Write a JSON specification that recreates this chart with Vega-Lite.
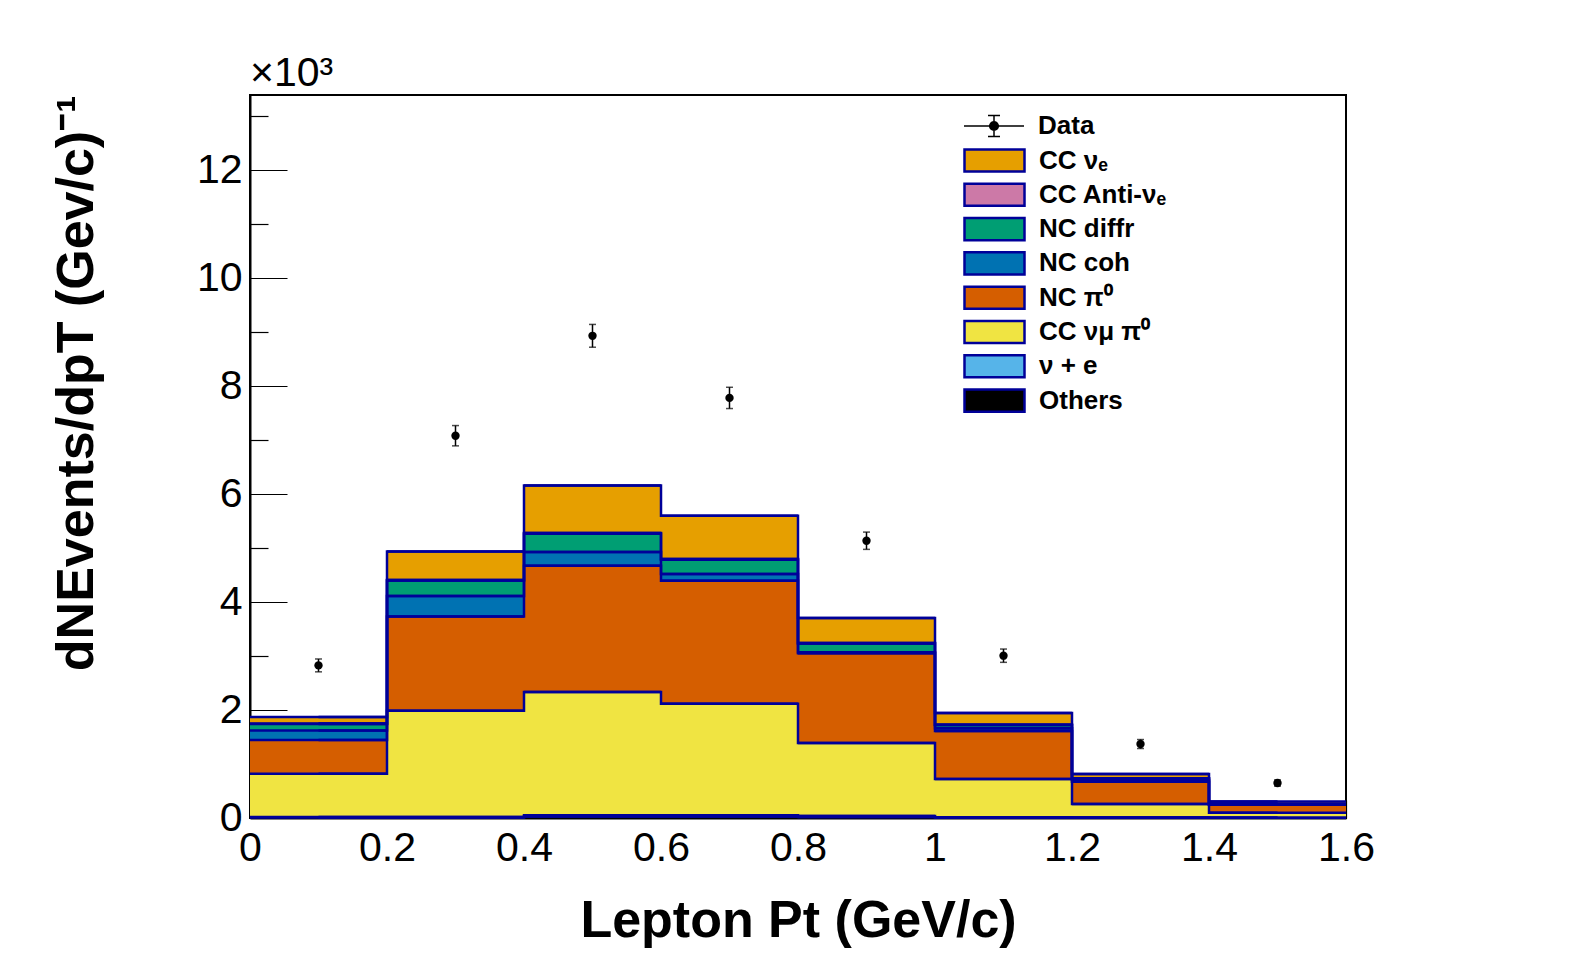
{
  "$schema": "https://vega.github.io/schema/vega-lite/v6.json",
  "width": 1096,
  "height": 723,
  "autosize": {"type": "none"},
  "padding": {"left": 250, "top": 95, "right": 250, "bottom": 154},
  "background": "white",
  "config": {
    "font": "Liberation Sans",
    "view": {"stroke": "black", "strokeWidth": 2},
    "axis": {
      "domainColor": "black",
      "domainWidth": 2,
      "tickColor": "black",
      "tickWidth": 1.2,
      "grid": false,
      "format": "~g",
      "labelFont": "Liberation Sans",
      "labelFontSize": 41,
      "labelColor": "black",
      "labelFlush": false,
      "labelOverlap": false,
      "titleFont": "Liberation Sans",
      "titleFontSize": 52,
      "titleFontWeight": "bold",
      "titleColor": "black"
    },
    "legend": {
      "labelFont": "Liberation Sans",
      "labelFontSize": 26,
      "labelFontWeight": "bold",
      "labelColor": "black",
      "labelLimit": 400,
      "padding": 0
    }
  },
  "title": {
    "text": "×10³",
    "anchor": "start",
    "frame": "group",
    "font": "Liberation Sans",
    "fontSize": 41,
    "fontWeight": "normal",
    "color": "black",
    "baseline": "alphabetic",
    "offset": -32
  },
  "datasets": {
    "mc": [
      {"lo": 0.0, "hi": 0.2, "mid": 0.1, "ord": 1, "cat": "Others", "v": 0.01},
      {"lo": 0.0, "hi": 0.2, "mid": 0.1, "ord": 2, "cat": "ν + e", "v": 0.01},
      {"lo": 0.0, "hi": 0.2, "mid": 0.1, "ord": 3, "cat": "CC  νμ  π⁰", "v": 0.80},
      {"lo": 0.0, "hi": 0.2, "mid": 0.1, "ord": 4, "cat": "NC  π⁰", "v": 0.624},
      {"lo": 0.0, "hi": 0.2, "mid": 0.1, "ord": 5, "cat": "NC coh", "v": 0.176},
      {"lo": 0.0, "hi": 0.2, "mid": 0.1, "ord": 6, "cat": "NC diffr", "v": 0.12},
      {"lo": 0.0, "hi": 0.2, "mid": 0.1, "ord": 7, "cat": "CC Anti-νₑ", "v": 0.01},
      {"lo": 0.0, "hi": 0.2, "mid": 0.1, "ord": 8, "cat": "CC  νₑ", "v": 0.12},
      {"lo": 0.2, "hi": 0.4, "mid": 0.3, "ord": 1, "cat": "Others", "v": 0.01},
      {"lo": 0.2, "hi": 0.4, "mid": 0.3, "ord": 2, "cat": "ν + e", "v": 0.01},
      {"lo": 0.2, "hi": 0.4, "mid": 0.3, "ord": 3, "cat": "CC  νμ  π⁰", "v": 1.967},
      {"lo": 0.2, "hi": 0.4, "mid": 0.3, "ord": 4, "cat": "NC  π⁰", "v": 1.746},
      {"lo": 0.2, "hi": 0.4, "mid": 0.3, "ord": 5, "cat": "NC coh", "v": 0.377},
      {"lo": 0.2, "hi": 0.4, "mid": 0.3, "ord": 6, "cat": "NC diffr", "v": 0.29},
      {"lo": 0.2, "hi": 0.4, "mid": 0.3, "ord": 7, "cat": "CC Anti-νₑ", "v": 0.01},
      {"lo": 0.2, "hi": 0.4, "mid": 0.3, "ord": 8, "cat": "CC  νₑ", "v": 0.527},
      {"lo": 0.4, "hi": 0.6, "mid": 0.5, "ord": 1, "cat": "Others", "v": 0.03},
      {"lo": 0.4, "hi": 0.6, "mid": 0.5, "ord": 2, "cat": "ν + e", "v": 0.02},
      {"lo": 0.4, "hi": 0.6, "mid": 0.5, "ord": 3, "cat": "CC  νμ  π⁰", "v": 2.283},
      {"lo": 0.4, "hi": 0.6, "mid": 0.5, "ord": 4, "cat": "NC  π⁰", "v": 2.337},
      {"lo": 0.4, "hi": 0.6, "mid": 0.5, "ord": 5, "cat": "NC coh", "v": 0.255},
      {"lo": 0.4, "hi": 0.6, "mid": 0.5, "ord": 6, "cat": "NC diffr", "v": 0.34},
      {"lo": 0.4, "hi": 0.6, "mid": 0.5, "ord": 7, "cat": "CC Anti-νₑ", "v": 0.015},
      {"lo": 0.4, "hi": 0.6, "mid": 0.5, "ord": 8, "cat": "CC  νₑ", "v": 0.88},
      {"lo": 0.6, "hi": 0.8, "mid": 0.7, "ord": 1, "cat": "Others", "v": 0.03},
      {"lo": 0.6, "hi": 0.8, "mid": 0.7, "ord": 2, "cat": "ν + e", "v": 0.02},
      {"lo": 0.6, "hi": 0.8, "mid": 0.7, "ord": 3, "cat": "CC  νμ  π⁰", "v": 2.067},
      {"lo": 0.6, "hi": 0.8, "mid": 0.7, "ord": 4, "cat": "NC  π⁰", "v": 2.277},
      {"lo": 0.6, "hi": 0.8, "mid": 0.7, "ord": 5, "cat": "NC coh", "v": 0.124},
      {"lo": 0.6, "hi": 0.8, "mid": 0.7, "ord": 6, "cat": "NC diffr", "v": 0.265},
      {"lo": 0.6, "hi": 0.8, "mid": 0.7, "ord": 7, "cat": "CC Anti-νₑ", "v": 0.015},
      {"lo": 0.6, "hi": 0.8, "mid": 0.7, "ord": 8, "cat": "CC  νₑ", "v": 0.80},
      {"lo": 0.8, "hi": 1.0, "mid": 0.9, "ord": 1, "cat": "Others", "v": 0.02},
      {"lo": 0.8, "hi": 1.0, "mid": 0.9, "ord": 2, "cat": "ν + e", "v": 0.015},
      {"lo": 0.8, "hi": 1.0, "mid": 0.9, "ord": 3, "cat": "CC  νμ  π⁰", "v": 1.354},
      {"lo": 0.8, "hi": 1.0, "mid": 0.9, "ord": 4, "cat": "NC  π⁰", "v": 1.66},
      {"lo": 0.8, "hi": 1.0, "mid": 0.9, "ord": 5, "cat": "NC coh", "v": 0.02},
      {"lo": 0.8, "hi": 1.0, "mid": 0.9, "ord": 6, "cat": "NC diffr", "v": 0.164},
      {"lo": 0.8, "hi": 1.0, "mid": 0.9, "ord": 7, "cat": "CC Anti-νₑ", "v": 0.01},
      {"lo": 0.8, "hi": 1.0, "mid": 0.9, "ord": 8, "cat": "CC  νₑ", "v": 0.46},
      {"lo": 1.0, "hi": 1.2, "mid": 1.1, "ord": 1, "cat": "Others", "v": 0.01},
      {"lo": 1.0, "hi": 1.2, "mid": 1.1, "ord": 2, "cat": "ν + e", "v": 0.005},
      {"lo": 1.0, "hi": 1.2, "mid": 1.1, "ord": 3, "cat": "CC  νμ  π⁰", "v": 0.707},
      {"lo": 1.0, "hi": 1.2, "mid": 1.1, "ord": 4, "cat": "NC  π⁰", "v": 0.89},
      {"lo": 1.0, "hi": 1.2, "mid": 1.1, "ord": 5, "cat": "NC coh", "v": 0.05},
      {"lo": 1.0, "hi": 1.2, "mid": 1.1, "ord": 6, "cat": "NC diffr", "v": 0.06},
      {"lo": 1.0, "hi": 1.2, "mid": 1.1, "ord": 7, "cat": "CC Anti-νₑ", "v": 0.005},
      {"lo": 1.0, "hi": 1.2, "mid": 1.1, "ord": 8, "cat": "CC  νₑ", "v": 0.217},
      {"lo": 1.2, "hi": 1.4, "mid": 1.3, "ord": 1, "cat": "Others", "v": 0.005},
      {"lo": 1.2, "hi": 1.4, "mid": 1.3, "ord": 2, "cat": "ν + e", "v": 0.005},
      {"lo": 1.2, "hi": 1.4, "mid": 1.3, "ord": 3, "cat": "CC  νμ  π⁰", "v": 0.25},
      {"lo": 1.2, "hi": 1.4, "mid": 1.3, "ord": 4, "cat": "NC  π⁰", "v": 0.412},
      {"lo": 1.2, "hi": 1.4, "mid": 1.3, "ord": 5, "cat": "NC coh", "v": 0.03},
      {"lo": 1.2, "hi": 1.4, "mid": 1.3, "ord": 6, "cat": "NC diffr", "v": 0.03},
      {"lo": 1.2, "hi": 1.4, "mid": 1.3, "ord": 7, "cat": "CC Anti-νₑ", "v": 0.003},
      {"lo": 1.2, "hi": 1.4, "mid": 1.3, "ord": 8, "cat": "CC  νₑ", "v": 0.08},
      {"lo": 1.4, "hi": 1.6, "mid": 1.5, "ord": 1, "cat": "Others", "v": 0.003},
      {"lo": 1.4, "hi": 1.6, "mid": 1.5, "ord": 2, "cat": "ν + e", "v": 0.002},
      {"lo": 1.4, "hi": 1.6, "mid": 1.5, "ord": 3, "cat": "CC  νμ  π⁰", "v": 0.09},
      {"lo": 1.4, "hi": 1.6, "mid": 1.5, "ord": 4, "cat": "NC  π⁰", "v": 0.15},
      {"lo": 1.4, "hi": 1.6, "mid": 1.5, "ord": 5, "cat": "NC coh", "v": 0.007},
      {"lo": 1.4, "hi": 1.6, "mid": 1.5, "ord": 6, "cat": "NC diffr", "v": 0.008},
      {"lo": 1.4, "hi": 1.6, "mid": 1.5, "ord": 7, "cat": "CC Anti-νₑ", "v": 0.002},
      {"lo": 1.4, "hi": 1.6, "mid": 1.5, "ord": 8, "cat": "CC  νₑ", "v": 0.043}
    ],
    "obs": [
      {"kind": "Data", "x": 0.1, "y": 2.826, "lo": 2.707, "hi": 2.945},
      {"kind": "Data", "x": 0.3, "y": 7.08, "lo": 6.892, "hi": 7.268},
      {"kind": "Data", "x": 0.5, "y": 8.93, "lo": 8.719, "hi": 9.141},
      {"kind": "Data", "x": 0.7, "y": 7.78, "lo": 7.583, "hi": 7.977},
      {"kind": "Data", "x": 0.9, "y": 5.135, "lo": 4.975, "hi": 5.295},
      {"kind": "Data", "x": 1.1, "y": 3.006, "lo": 2.883, "hi": 3.129},
      {"kind": "Data", "x": 1.3, "y": 1.37, "lo": 1.287, "hi": 1.453},
      {"kind": "Data", "x": 1.5, "y": 0.648, "lo": 0.591, "hi": 0.705}
    ]
  },
  "resolve": {"scale": {"color": "independent"}},
  "layer": [
    {
      "data": {"name": "mc"},
      "transform": [
        {"stack": "v", "groupby": ["lo"], "sort": [{"field": "ord", "order": "ascending"}], "as": ["y0", "y1"]}
      ],
      "mark": {"type": "bar", "strokeWidth": 0},
      "encoding": {
        "x": {
          "field": "lo",
          "type": "quantitative",
          "title": "Lepton Pt (GeV/c)",
          "scale": {"domain": [0, 1.6], "nice": false, "zero": false},
          "axis": {
            "values": [0, 0.05, 0.1, 0.15, 0.2, 0.25, 0.3, 0.35, 0.4, 0.45, 0.5, 0.55, 0.6, 0.65, 0.7, 0.75, 0.8, 0.85, 0.9, 0.95, 1, 1.05, 1.1, 1.15, 1.2, 1.25, 1.3, 1.35, 1.4, 1.45, 1.5, 1.55, 1.6],
            "tickSize": {"condition": {"test": "round(datum.value * 100) % 20 === 0", "value": -18}, "value": -9},
            "labelExpr": "round(datum.value * 100) % 20 === 0 ? datum.label : ''",
            "labelPadding": 28,
            "titlePadding": 18
          }
        },
        "x2": {"field": "hi"},
        "y": {
          "field": "y1",
          "type": "quantitative",
          "title": "dNEvents/dpT (Gev/c)⁻¹",
          "scale": {"domain": [0, 13.39], "nice": false},
          "axis": {
            "titleAnchor": "end",
            "values": [0, 0.5, 1, 1.5, 2, 2.5, 3, 3.5, 4, 4.5, 5, 5.5, 6, 6.5, 7, 7.5, 8, 8.5, 9, 9.5, 10, 10.5, 11, 11.5, 12, 12.5, 13],
            "tickSize": {"condition": {"test": "datum.value % 2 === 0", "value": -37}, "value": -18},
            "labelExpr": "datum.value % 2 === 0 ? datum.label : ''",
            "labelPadding": 45,
            "titlePadding": 93
          }
        },
        "y2": {"field": "y0"},
        "color": {
          "field": "cat",
          "type": "nominal",
          "scale": {
            "domain": ["CC  νₑ", "CC Anti-νₑ", "NC diffr", "NC coh", "NC  π⁰", "CC  νμ  π⁰", "ν + e", "Others"],
            "range": ["#E69F00", "#CC79A7", "#009E73", "#0072B2", "#D55E00", "#F0E442", "#56B4E9", "#000000"]
          },
          "legend": {
            "title": null,
            "orient": "none",
            "legendX": 731,
            "legendY": 52,
            "symbolType": "M-2.5,-0.92H2.5V0.92H-2.5Z",
            "symbolSize": 576,
            "symbolStrokeColor": "#000099",
            "symbolStrokeWidth": 2.5,
            "symbolOpacity": 1,
            "symbolOffset": 0,
            "labelOffset": 31,
            "rowPadding": 1.3
          }
        }
      }
    },
    {
      "data": {"name": "mc"},
      "transform": [
        {"stack": "v", "groupby": ["lo"], "sort": [{"field": "ord", "order": "ascending"}], "as": ["y0", "y1"]}
      ],
      "mark": {"type": "rule", "color": "#000099", "strokeWidth": 2.5},
      "encoding": {
        "x": {"field": "lo", "type": "quantitative"},
        "x2": {"field": "hi"},
        "y": {"field": "y1", "type": "quantitative"}
      }
    },
    {
      "data": {"name": "mc"},
      "transform": [
        {"stack": "v", "groupby": ["lo"], "sort": [{"field": "ord", "order": "ascending"}], "as": ["y0", "y1"]}
      ],
      "mark": {"type": "line", "interpolate": "step", "color": "#000099", "strokeWidth": 2.5},
      "encoding": {
        "x": {"field": "mid", "type": "quantitative"},
        "y": {"field": "y1", "type": "quantitative"},
        "detail": {"field": "cat", "type": "nominal"}
      }
    },
    {
      "data": {"name": "obs"},
      "mark": {"type": "rule", "color": "black", "strokeWidth": 1.5},
      "encoding": {
        "x": {"field": "x", "type": "quantitative"},
        "y": {"field": "lo", "type": "quantitative"},
        "y2": {"field": "hi"}
      }
    },
    {
      "data": {"name": "obs"},
      "mark": {"type": "tick", "orient": "horizontal", "color": "black", "size": 7, "thickness": 1.5},
      "encoding": {
        "x": {"field": "x", "type": "quantitative"},
        "y": {"field": "lo", "type": "quantitative"}
      }
    },
    {
      "data": {"name": "obs"},
      "mark": {"type": "tick", "orient": "horizontal", "color": "black", "size": 7, "thickness": 1.5},
      "encoding": {
        "x": {"field": "x", "type": "quantitative"},
        "y": {"field": "hi", "type": "quantitative"}
      }
    },
    {
      "data": {"name": "obs"},
      "mark": {"type": "point", "shape": "circle", "filled": true, "size": 70, "opacity": 1},
      "encoding": {
        "x": {"field": "x", "type": "quantitative"},
        "y": {"field": "y", "type": "quantitative"},
        "color": {
          "field": "kind",
          "type": "nominal",
          "scale": {"domain": ["Data"], "range": ["black"]},
          "legend": {
            "title": null,
            "orient": "none",
            "legendX": 731,
            "legendY": 18,
            "symbolType": "M-2.5,0H2.5M0,-0.875V0.875M-0.5,-0.875H0.5M-0.5,0.875H0.5M-0.36,0A0.36,0.36,0,1,0,0.36,0A0.36,0.36,0,1,0,-0.36,0Z",
            "symbolSize": 576,
            "symbolStrokeColor": "black",
            "symbolStrokeWidth": 1.5,
            "symbolOpacity": 1,
            "symbolOffset": 0,
            "labelOffset": 31
          }
        }
      }
    }
  ]
}
